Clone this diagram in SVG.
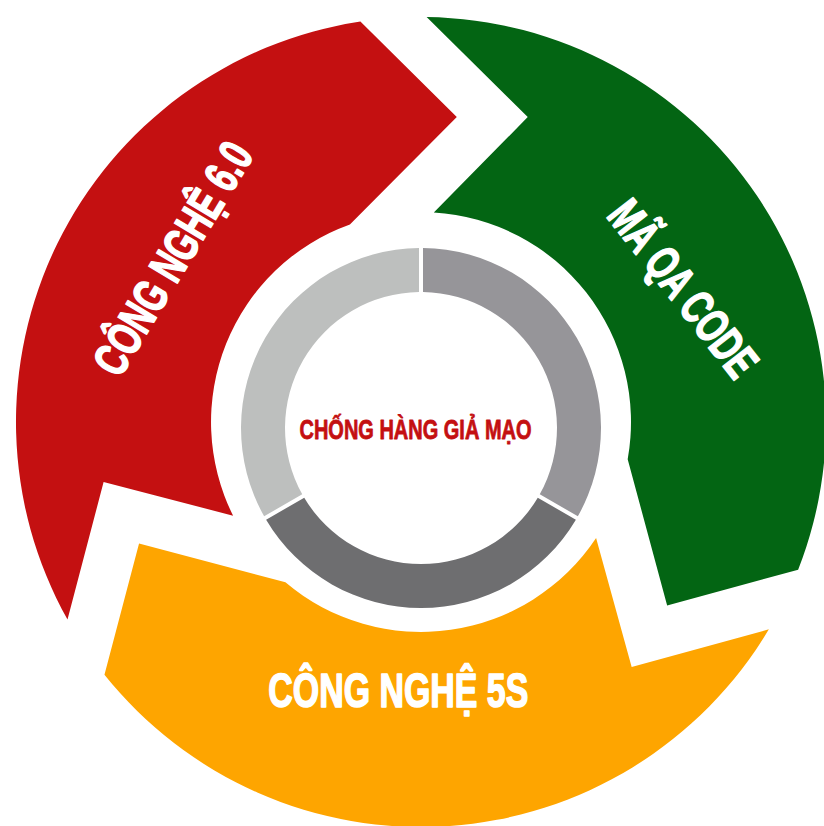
<svg xmlns="http://www.w3.org/2000/svg" xmlns:xlink="http://www.w3.org/1999/xlink" width="824" height="826" viewBox="0 0 824 826">
  <style>
    .label { font-family: "Liberation Sans Narrow", "Liberation Sans", Arial, sans-serif; font-weight: bold; fill: #ffffff; stroke: #ffffff; stroke-width: 1.6px; stroke-linejoin: round; font-size: 48px; }
    .center-label { font-family: "Liberation Sans Narrow", "Liberation Sans", Arial, sans-serif; font-weight: bold; fill: #c41011; stroke: #c41011; stroke-width: 0.8px; stroke-linejoin: round; font-size: 27px; }
    .red { fill: #c41011; }
    .green { fill: #036513; }
    .orange { fill: #fea500; }
  </style>
  <defs>
    <!-- one curved arrow band of the cycle, centred on (421,422): tail notch at lower left, chevron head at top -->
    <path id="arrow-band" d="M 67.5 619.6 A 405 405 0 0 1 360.4 21.5 L 456.8 117.1 L 349.9 224.4 A 210 210 0 0 0 233.1 515.7 L 103.6 482 Z"/>
  </defs>

  <rect width="824" height="826" fill="#ffffff"/>

  <g id="node-cong-nghe-60">
    <use xlink:href="#arrow-band" class="red"/>
    <text class="label" transform="translate(172 258) rotate(-59)" x="0" y="17.5" text-anchor="middle" textLength="262" lengthAdjust="spacingAndGlyphs">CÔNG NGHỆ 6.0</text>
  </g>

  <g id="node-ma-qa-code">
    <use xlink:href="#arrow-band" class="green" transform="rotate(120 421 422)"/>
    <text class="label" transform="translate(684 288) rotate(52)" x="0" y="17.5" text-anchor="middle" textLength="210" lengthAdjust="spacingAndGlyphs">MÃ QA CODE</text>
  </g>

  <g id="node-cong-nghe-5s">
    <use xlink:href="#arrow-band" class="orange" transform="rotate(240 421 422)"/>
    <text class="label" x="398.3" y="706.7" text-anchor="middle" textLength="260" lengthAdjust="spacingAndGlyphs">CÔNG NGHỆ 5S</text>
  </g>

  <g id="node-center">
    <!-- three ring segments with 4px gaps at 0, 120 and 240 degrees -->
    <path fill="#969599" d="M 423 248.01 A 180 180 0 0 1 577.86 516.28 L 539.76 494.25 A 136 136 0 0 0 423 292.01 Z"/>
    <path fill="#6e6e70" d="M 575.88 519.73 A 180 180 0 0 1 266.12 519.73 L 304.23 497.73 A 136 136 0 0 0 537.77 497.73 Z"/>
    <path fill="#bdbfbe" d="M 264.14 516.28 A 180 180 0 0 1 419 248.01 L 419 292.01 A 136 136 0 0 0 302.24 494.25 Z"/>
    <text class="center-label" x="415.5" y="439.3" text-anchor="middle" textLength="232" lengthAdjust="spacingAndGlyphs">CHỐNG HÀNG GIẢ MẠO</text>
  </g>

  <g id="connectors"></g>
</svg>
